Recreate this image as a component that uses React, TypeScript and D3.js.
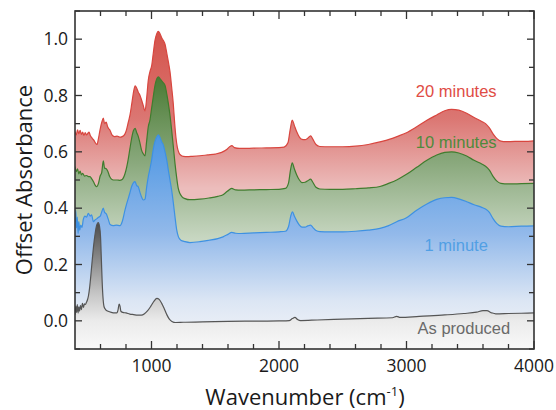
import React from "react";
import * as d3 from "d3";

// ---- Data (wavenumber cm^-1, offset absorbance) ----
const red20: [number, number][] = [
  [400, 0.672], [410, 0.660], [420, 0.678], [430, 0.664], [440, 0.676], [450, 0.662], [460, 0.670], [470, 0.658], [480, 0.668], [490, 0.660], [500, 0.665], [510, 0.670], [520, 0.658], [535, 0.648], [550, 0.640], [560, 0.632], [572, 0.626], [585, 0.650], [596, 0.677], [610, 0.705], [622, 0.720], [632, 0.700], [645, 0.706], [655, 0.690], [665, 0.682], [675, 0.676], [690, 0.660], [710, 0.654], [730, 0.656], [750, 0.652], [770, 0.654], [790, 0.662], [805, 0.680], [818, 0.705], [831, 0.730], [845, 0.770], [860, 0.815], [872, 0.834], [884, 0.826], [896, 0.812], [910, 0.800], [922, 0.784], [935, 0.765], [949, 0.745], [962, 0.790], [975, 0.855], [988, 0.885], [1001, 0.905], [1014, 0.950], [1027, 0.995], [1040, 1.018], [1053, 1.028], [1066, 1.020], [1080, 1.005], [1093, 0.995], [1106, 0.982], [1120, 0.950], [1132, 0.920], [1145, 0.885], [1158, 0.830], [1171, 0.770], [1182, 0.700], [1192, 0.650], [1203, 0.615], [1215, 0.597], [1230, 0.588], [1250, 0.584], [1280, 0.583], [1320, 0.584], [1380, 0.586], [1440, 0.589], [1500, 0.592], [1550, 0.598], [1590, 0.608], [1615, 0.619], [1630, 0.622], [1650, 0.615], [1690, 0.612], [1800, 0.613], [1900, 0.614], [2000, 0.615], [2040, 0.617], [2070, 0.632], [2088, 0.680], [2104, 0.713], [2120, 0.694], [2139, 0.671], [2160, 0.652], [2180, 0.644], [2205, 0.643], [2225, 0.648], [2248, 0.657], [2265, 0.645], [2290, 0.626], [2320, 0.619], [2400, 0.618], [2500, 0.618], [2600, 0.620], [2700, 0.626], [2800, 0.636], [2870, 0.645], [2930, 0.655], [3000, 0.668], [3080, 0.689], [3160, 0.712], [3237, 0.731], [3300, 0.746], [3354, 0.751], [3410, 0.748], [3472, 0.737], [3530, 0.722], [3590, 0.708], [3620, 0.700], [3650, 0.685], [3680, 0.663], [3707, 0.648], [3740, 0.638], [3780, 0.636], [3850, 0.637], [3920, 0.637], [4000, 0.639],
];

const green10: [number, number][] = [
  [400, 0.548], [410, 0.530], [420, 0.540], [430, 0.522], [440, 0.532], [450, 0.518], [460, 0.524], [475, 0.514], [490, 0.516], [505, 0.512], [518, 0.512], [530, 0.505], [545, 0.494], [558, 0.482], [570, 0.476], [585, 0.490], [598, 0.515], [609, 0.525], [622, 0.568], [632, 0.542], [645, 0.540], [658, 0.530], [672, 0.512], [690, 0.502], [710, 0.500], [730, 0.500], [750, 0.499], [770, 0.502], [792, 0.522], [805, 0.545], [818, 0.575], [831, 0.612], [845, 0.650], [858, 0.675], [872, 0.683], [884, 0.668], [896, 0.655], [910, 0.630], [922, 0.606], [935, 0.593], [949, 0.586], [960, 0.630], [975, 0.690], [988, 0.713], [1001, 0.755], [1014, 0.796], [1027, 0.835], [1040, 0.858], [1053, 0.866], [1066, 0.860], [1080, 0.852], [1093, 0.845], [1106, 0.836], [1120, 0.805], [1132, 0.772], [1145, 0.730], [1158, 0.677], [1171, 0.620], [1184, 0.560], [1197, 0.510], [1210, 0.470], [1223, 0.452], [1240, 0.440], [1263, 0.434], [1300, 0.430], [1380, 0.432], [1450, 0.436], [1520, 0.442], [1561, 0.448], [1595, 0.460], [1629, 0.470], [1660, 0.465], [1700, 0.464], [1800, 0.465], [1900, 0.466], [2000, 0.467], [2050, 0.470], [2075, 0.490], [2090, 0.535], [2104, 0.561], [2120, 0.540], [2139, 0.518], [2160, 0.500], [2180, 0.491], [2205, 0.492], [2225, 0.497], [2248, 0.503], [2265, 0.492], [2290, 0.474], [2320, 0.468], [2400, 0.467], [2500, 0.467], [2600, 0.469], [2700, 0.472], [2792, 0.477], [2860, 0.488], [2923, 0.500], [3000, 0.520], [3080, 0.545], [3160, 0.570], [3237, 0.589], [3300, 0.598], [3354, 0.600], [3410, 0.596], [3472, 0.585], [3530, 0.570], [3590, 0.557], [3620, 0.549], [3650, 0.535], [3680, 0.512], [3707, 0.497], [3740, 0.488], [3800, 0.486], [3900, 0.487], [4000, 0.488],
];

const blue1: [number, number][] = [
  [400, 0.350], [406, 0.392], [412, 0.330], [418, 0.368], [424, 0.310], [430, 0.352], [437, 0.322], [445, 0.340], [455, 0.332], [465, 0.360], [478, 0.372], [490, 0.368], [505, 0.382], [518, 0.372], [530, 0.376], [545, 0.352], [557, 0.358], [570, 0.362], [585, 0.368], [598, 0.372], [609, 0.386], [622, 0.400], [632, 0.385], [645, 0.380], [660, 0.362], [675, 0.342], [700, 0.338], [725, 0.340], [753, 0.338], [770, 0.352], [792, 0.393], [805, 0.415], [818, 0.435], [831, 0.455], [845, 0.478], [858, 0.490], [870, 0.494], [884, 0.480], [896, 0.476], [910, 0.455], [922, 0.440], [936, 0.429], [949, 0.432], [962, 0.475], [975, 0.512], [988, 0.540], [1001, 0.571], [1014, 0.610], [1027, 0.636], [1040, 0.652], [1053, 0.660], [1066, 0.652], [1080, 0.635], [1093, 0.624], [1106, 0.600], [1120, 0.570], [1132, 0.535], [1145, 0.500], [1158, 0.464], [1171, 0.420], [1184, 0.370], [1197, 0.325], [1210, 0.300], [1230, 0.286], [1263, 0.281], [1302, 0.278], [1380, 0.281], [1450, 0.286], [1520, 0.292], [1561, 0.298], [1600, 0.307], [1629, 0.314], [1660, 0.311], [1700, 0.310], [1800, 0.312], [1900, 0.314], [2000, 0.316], [2050, 0.318], [2075, 0.335], [2092, 0.372], [2106, 0.387], [2120, 0.372], [2139, 0.355], [2160, 0.340], [2180, 0.333], [2205, 0.333], [2225, 0.337], [2248, 0.340], [2265, 0.332], [2290, 0.321], [2320, 0.317], [2400, 0.316], [2500, 0.316], [2600, 0.318], [2700, 0.322], [2792, 0.328], [2860, 0.338], [2923, 0.352], [3000, 0.366], [3080, 0.393], [3160, 0.415], [3237, 0.431], [3300, 0.437], [3354, 0.438], [3410, 0.433], [3472, 0.423], [3530, 0.412], [3590, 0.403], [3620, 0.397], [3650, 0.385], [3680, 0.362], [3707, 0.346], [3740, 0.336], [3800, 0.334], [3900, 0.336], [4000, 0.337],
];

const asProduced: [number, number][] = [
  [400, 0.022], [406, 0.052], [412, 0.030], [418, 0.058], [424, 0.028], [430, 0.050], [436, 0.034], [442, 0.055], [450, 0.040], [458, 0.062], [466, 0.048], [474, 0.060], [482, 0.058], [490, 0.066], [498, 0.075], [506, 0.090], [514, 0.115], [522, 0.150], [532, 0.200], [545, 0.262], [558, 0.310], [570, 0.340], [582, 0.349], [592, 0.336], [600, 0.300], [607, 0.215], [613, 0.140], [620, 0.080], [628, 0.050], [640, 0.040], [660, 0.034], [685, 0.030], [710, 0.028], [728, 0.028], [738, 0.040], [746, 0.059], [753, 0.052], [760, 0.034], [775, 0.030], [800, 0.028], [830, 0.024], [860, 0.022], [890, 0.020], [920, 0.020], [945, 0.025], [970, 0.036], [995, 0.052], [1020, 0.070], [1042, 0.080], [1060, 0.076], [1080, 0.062], [1100, 0.043], [1120, 0.022], [1140, 0.006], [1160, -0.002], [1190, -0.006], [1250, -0.005], [1400, -0.004], [1600, -0.002], [1800, -0.001], [2000, 0.000], [2080, 0.001], [2105, 0.008], [2125, 0.012], [2145, 0.005], [2170, 0.001], [2300, 0.003], [2500, 0.006], [2700, 0.009], [2890, 0.011], [2923, 0.016], [2950, 0.012], [3100, 0.016], [3300, 0.021], [3450, 0.026], [3550, 0.031], [3600, 0.036], [3630, 0.036], [3670, 0.028], [3700, 0.025], [3800, 0.026], [3900, 0.027], [4000, 0.028],
];

const xMajorTicks = [1000, 2000, 3000, 4000];
const xMinorTicks = d3.range(600, 4000, 200);
const yMajorTicks = [0.0, 0.2, 0.4, 0.6, 0.8, 1.0];
const yMinorTicks = [-0.1, 0.1, 0.3, 0.5, 0.7, 0.9, 1.1];

const seriesNames = ["20 minutes", "10 minutes", "1 minute", "As produced"];

// ---- layout ----
const W = 556;
const H = 410;
const L = 75, R = 534, T = 11, B = 349;

export default function App() {
  const x = d3.scaleLinear().domain([400, 4000]).range([L, R]);
  const y = d3.scaleLinear().domain([-0.1, 1.1]).range([B, T]);

  const area = d3
    .area<[number, number]>()
    .x((d) => x(d[0]))
    .y0(B)
    .y1((d) => y(d[1]))
    .curve(d3.curveMonotoneX);
  const line = d3
    .line<[number, number]>()
    .x((d) => x(d[0]))
    .y((d) => y(d[1]))
    .curve(d3.curveMonotoneX);

  const series = [
    { data: red20, id: "gRed", stroke: "#d8463f", text: "#e04c45", label: seriesNames[0], lx: 3390, ly: 0.795,
      stops: [[y(1.03), "#d4524a"], [y(0.72), "#db7672"], [y(0.47), "#ecbdbc"]] },
    { data: green10, id: "gGreen", stroke: "#407c2e", text: "#4f8a3c", label: seriesNames[1], lx: 3390, ly: 0.615,
      stops: [[y(0.87), "#497a33"], [y(0.56), "#8aa97d"], [y(0.29), "#c8d7c2"]] },
    { data: blue1, id: "gBlue", stroke: "#3e91e2", text: "#519fe4", label: seriesNames[2], lx: 3390, ly: 0.248,
      stops: [[y(0.66), "#4a95e3"], [y(0.31), "#92b9ea"], [y(0.07), "#dce6f4"], [y(-0.08), "#f3f4f8"]] },
    { data: asProduced, id: "gGray", stroke: "#555555", text: "#6a6a6a", label: seriesNames[3], lx: 3450, ly: -0.045,
      stops: [[y(0.35), "#4a4a4a"], [y(0.1), "#c4c4c4"], [y(0.0), "#ebebeb"], [y(-0.1), "#f9f9f9"]] },
  ];

  const tickFont = "'Open Sans', sans-serif";

  return (
    <svg width={W} height={H} style={{ position: "absolute", left: 0, top: 0, background: "#fff" }}>
      <defs>
        {series.map((s) => (
          <linearGradient key={s.id} id={s.id} gradientUnits="userSpaceOnUse" x1={0} x2={0} y1={s.stops[0][0] as number} y2={s.stops[s.stops.length - 1][0] as number}>
            {s.stops.map((st, i) => {
              const y0 = s.stops[0][0] as number;
              const y1 = s.stops[s.stops.length - 1][0] as number;
              return <stop key={i} offset={((st[0] as number) - y0) / (y1 - y0)} stopColor={st[1] as string} />;
            })}
          </linearGradient>
        ))}
        <clipPath id="plotClip">
          <rect x={L} y={T} width={R - L} height={B - T} />
        </clipPath>
      </defs>
      <rect x={0} y={0} width={W} height={H} fill="#fff" />
      <g clipPath="url(#plotClip)">
        {series.map((s) => (
          <g key={s.id}>
            <path d={area(s.data) || ""} fill={`url(#${s.id})`} />
            <path d={line(s.data) || ""} fill="none" stroke={s.stroke} strokeWidth={1.2} strokeLinejoin="round" />
          </g>
        ))}
      </g>
      {series.map((s) => (
        <text key={s.id + "t"} x={x(s.lx)} y={y(s.ly)} textAnchor="middle" fontFamily="'Liberation Sans', Arial, sans-serif" fontSize={16.5} fill={s.text}>
          {s.label}
        </text>
      ))}
      {/* ticks */}
      <g stroke="#333" strokeWidth={1.3}>
        {xMinorTicks.filter((v) => !xMajorTicks.includes(v)).map((v) => (
          <g key={"xm" + v}>
            <line x1={x(v)} x2={x(v)} y1={B} y2={B - 5} />
            <line x1={x(v)} x2={x(v)} y1={T} y2={T + 5} />
          </g>
        ))}
        {xMajorTicks.map((v) => (
          <g key={"xM" + v}>
            <line x1={x(v)} x2={x(v)} y1={B} y2={B - 8} />
            <line x1={x(v)} x2={x(v)} y1={T} y2={T + 8} />
          </g>
        ))}
        {yMinorTicks.map((v) => (
          <g key={"ym" + v}>
            <line x1={L} x2={L + 5} y1={y(v)} y2={y(v)} />
            <line x1={R} x2={R - 5} y1={y(v)} y2={y(v)} />
          </g>
        ))}
        {yMajorTicks.map((v) => (
          <g key={"yM" + v}>
            <line x1={L} x2={L + 7} y1={y(v)} y2={y(v)} />
            <line x1={R} x2={R - 7} y1={y(v)} y2={y(v)} />
          </g>
        ))}
      </g>
      <rect x={L} y={T} width={R - L} height={B - T} fill="none" stroke="#333" strokeWidth={1.6} />
      {xMajorTicks.map((v) => (
        <text key={"xl" + v} x={x(v)} y={372} textAnchor="middle" fontFamily={tickFont} fontSize={17.5} fill="#1a1a1a">
          {d3.format("d")(v)}
        </text>
      ))}
      {yMajorTicks.map((v) => (
        <text key={"yl" + v} x={68} y={y(v)} dy="0.36em" textAnchor="end" fontFamily={tickFont} fontSize={17.5} fill="#1a1a1a">
          {d3.format(".1f")(v)}
        </text>
      ))}
      <text x={305} y={405} textAnchor="middle" fontFamily={tickFont} fontSize={22} fill="#1a1a1a">
        Wavenumber (cm<tspan dy={-9} fontSize={13}>-1</tspan><tspan dy={9}>)</tspan>
      </text>
      <text transform={`translate(32, ${(T + B) / 2}) rotate(-90)`} textAnchor="middle" fontFamily={tickFont} fontSize={22} fill="#1a1a1a">
        Offset Absorbance
      </text>
    </svg>
  );
}
